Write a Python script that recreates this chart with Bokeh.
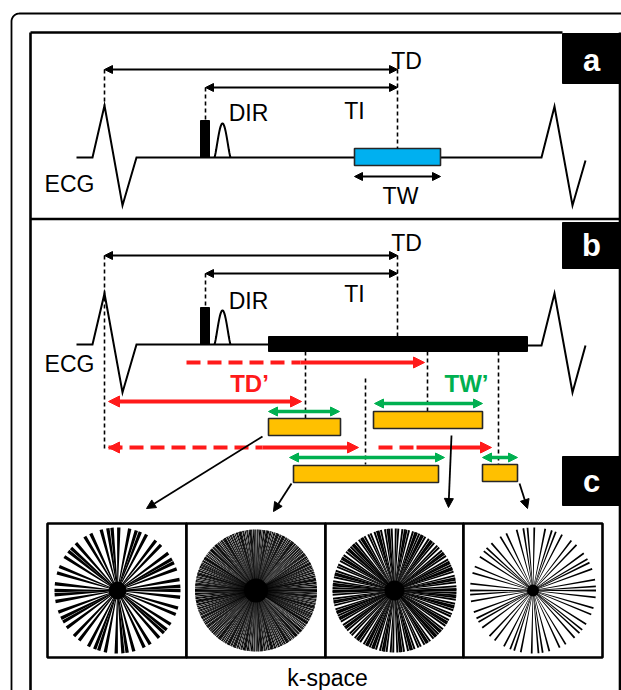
import numpy as np
from bokeh.plotting import figure
from bokeh.models import Range1d, Arrow, NormalHead
from bokeh.embed import file_html
from bokeh.resources import INLINE
from bokeh.core.properties import value

FONT = "Liberation Sans"

# ---------------- diagram content (page-pixel layout units) ----------------
panel_labels = ["a", "b", "c"]
label_box_top = [33, 222, 456]
label_box_bottom = [83, 268, 505]
label_text_y = [60, 245, 481]

# ECG traces
ecg_a_x = [76, 92, 104, 122, 136, 541, 554, 572, 585]
ecg_a_y = [157, 157, 105, 205, 157, 157, 106, 205, 160]
ecg_b_x = [76, 92, 104, 122, 136, 268]
ecg_b_y = [344, 344, 293, 392, 344, 344]
ecg_b2_x = [527, 541, 554, 572, 585]
ecg_b2_y = [345, 345, 293, 392, 345]

# DIR pulses (panel a, panel b)
dir_left = [200, 200]
dir_right = [209, 209]
dir_top = [120, 307]
dir_base = [157, 344]
bell_x0 = [214, 214]
bell_x1 = [230, 230]
bell_peak = [123, 310]

# acquisition windows
blue_win = dict(left=[354], right=[440], top=[148], bottom=[165])
black_bar = dict(left=[268], right=[527], top=[336], bottom=[351])
orange_left = [268, 373, 293, 482]
orange_right = [340, 482, 438, 517]
orange_top = [418, 411, 465, 464]
orange_bottom = [435, 428, 482, 481]

# dashed guide lines (x, y_from, y_to)
guide_x = [104, 205, 397, 104, 205, 397, 305, 427, 498, 365]
guide_y0 = [69, 87, 69, 255, 273, 255, 351, 351, 351, 378]
guide_y1 = [105, 120, 148, 450, 307, 336, 418, 411, 464, 464]

# black double arrows (TD, TI, TW)
blk_x0 = [104, 205, 354, 104, 205]
blk_x1 = [397, 397, 440, 397, 397]
blk_y = [69, 87, 176, 255, 273]

# red arrows: dashed start, solid start, end, y, head at start?
red_dash_x0 = [186, 108, 378]
red_solid_x0 = [300, 262, 416]
red_x1 = [424, 358, 491]
red_y = [362, 447, 447]
red_start_head = [False, True, False]
red_plain_x0 = [108]
red_plain_x1 = [301]
red_plain_y = [401]

# green double arrows
grn_x0 = [268, 374, 289, 482]
grn_x1 = [339, 482, 444, 517]
grn_y = [411, 403, 457, 457]

# arrows to k-space
ka_x0 = [262, 291, 451, 519]
ka_y0 = [436, 483, 435, 483]
ka_x1 = [146, 273, 448, 527]
ka_y1 = [508, 511, 507, 508]

# k-space cells and radial spokes
cell_left = [47, 186, 325, 463]
cell_right = [186, 325, 463, 602]
cell_top = 523
cell_bottom = 657
spoke_cx = [117, 255.5, 394, 532.5]
spoke_cy = [590, 590, 590, 590]
spoke_r = [63, 61, 62, 63]
spoke_n = [26, 160, 72, 26]
spoke_w_edge = [3.4, 1.05, 2.0, 1.8]
spoke_w_center = [0.6, 0.3, 0.4, 0.4]
blob_r = [9, 12, 10, 6]

# text labels
txt = ["TD", "TI", "DIR", "ECG", "TW", "TD", "TI", "DIR", "ECG", "k-space"]
txt_x = [406, 354, 248, 69, 400, 406, 354, 248, 69, 327]
txt_y = [60, 110, 112, 183, 195, 242, 293, 300, 363, 677]
bold_txt = ["TD\u2019", "TW\u2019"]
bold_x = [249, 466]
bold_y = [383, 383]
bold_col = ["#ff1a1a", "#00b050"]

# ---------------- figure ----------------
W, H = 621, 690
p = figure(width=W, height=H, x_range=Range1d(0, 621), y_range=Range1d(690, 0),
           x_axis_type=None, y_axis_type=None, toolbar_location=None,
           output_backend="svg", min_border=0, outline_line_color=None,
           background_fill_color="white", border_fill_color="white")

# outer rounded frame
t = np.linspace(np.pi, 1.5 * np.pi, 20)
cx0, cy0, rr = 19, 21, 8
ox = [11] + list(cx0 + rr * np.cos(t)) + [625]
oy = [700] + list(cy0 + rr * np.sin(t)) + [13]
p.line(ox, oy, line_color="black", line_width=1.8)

# inner frame
p.line([30, 30], [32, 700], line_color="black", line_width=2.6)
p.line([30, 562], [32, 32], line_color="black", line_width=2.6)
p.line([619.5, 619.5], [32, 700], line_color="black", line_width=2.6)
p.line([30, 619.5], [218.5, 218.5], line_color="black", line_width=2.6)

# label boxes
p.quad(left=[562] * 3, right=[621] * 3, top=label_box_top, bottom=label_box_bottom,
       fill_color="black", line_color="black")
p.text(x=[591] * 3, y=label_text_y, text=panel_labels, text_color="white",
       text_font=value(FONT), text_font_size="31px", text_font_style="bold",
       text_align="center", text_baseline="middle")

# ECG lines
for xs, ys in [(ecg_a_x, ecg_a_y), (ecg_b_x, ecg_b_y), (ecg_b2_x, ecg_b2_y)]:
    p.line(xs, ys, line_color="black", line_width=2, line_join="miter")

# DIR pulses
p.quad(left=dir_left, right=dir_right, top=dir_top, bottom=dir_base,
       fill_color="black", line_color="black")
for i in range(2):
    tt = np.linspace(0, 1, 30)
    bx = bell_x0[i] + (bell_x1[i] - bell_x0[i]) * tt
    by = dir_base[i] - (dir_base[i] - bell_peak[i]) * np.sin(np.pi * tt) ** 1.3
    p.line(bx, by, line_color="black", line_width=2)

# windows
p.quad(**blue_win, fill_color="#00b0f0", line_color="#262626", line_width=1.6)
p.quad(**black_bar, fill_color="black", line_color="black")

# dashed guides
p.segment(x0=guide_x, y0=guide_y0, x1=guide_x, y1=guide_y1,
          line_color="black", line_width=1.6, line_dash="4 3")


def head(col, size):
    return NormalHead(size=size, fill_color=col, line_color=col, line_width=1)


# black double arrows
for x0, x1, y in zip(blk_x0, blk_x1, blk_y):
    p.add_layout(Arrow(x_start=x0, y_start=y, x_end=x1, y_end=y,
                       start=head("black", 8), end=head("black", 8),
                       line_color="black", line_width=1.8))

RED = "#ff1a1a"
GRN = "#00b050"
# red arrows
for xd, xs, xe, y, sh in zip(red_dash_x0, red_solid_x0, red_x1, red_y, red_start_head):
    p.line([xd, xs], [y, y], line_color=RED, line_width=4, line_dash="14 7")
    p.add_layout(Arrow(x_start=xs, y_start=y, x_end=xe, y_end=y,
                       start=None, end=head(RED, 11), line_color=RED, line_width=4))
    if sh:
        p.add_layout(Arrow(x_start=xd + 12, y_start=y, x_end=xd, y_end=y,
                           start=None, end=head(RED, 11), line_color=RED, line_width=4))
for x0, x1, y in zip(red_plain_x0, red_plain_x1, red_plain_y):
    p.add_layout(Arrow(x_start=x0, y_start=y, x_end=x1, y_end=y,
                       start=head(RED, 11), end=head(RED, 11), line_color=RED, line_width=4))

# orange boxes
p.quad(left=orange_left, right=orange_right, top=orange_top, bottom=orange_bottom,
       fill_color="#ffc000", line_color="#262626", line_width=1.6)

# green double arrows
for x0, x1, y in zip(grn_x0, grn_x1, grn_y):
    p.add_layout(Arrow(x_start=x0, y_start=y, x_end=x1, y_end=y,
                       start=head(GRN, 9), end=head(GRN, 9), line_color=GRN, line_width=3.5))

# arrows to k-space
for x0, y0, x1, y1 in zip(ka_x0, ka_y0, ka_x1, ka_y1):
    p.add_layout(Arrow(x_start=x0, y_start=y0, x_end=x1, y_end=y1,
                       start=None, end=head("black", 9), line_color="black", line_width=1.8))

# k-space box
p.quad(left=cell_left, right=cell_right, top=[cell_top] * 4, bottom=[cell_bottom] * 4,
       fill_color="white", line_color="black", line_width=2.6)

# radial spokes (golden-angle ordering)
ga = np.deg2rad(111.246)
for c in range(4):
    xs_all, ys_all = [], []
    cx, cy, R = spoke_cx[c], spoke_cy[c], spoke_r[c]
    w1, w0 = spoke_w_edge[c] / 2, spoke_w_center[c] / 2
    for k in range(spoke_n[c]):
        th = (k * ga) % np.pi
        dx, dy = np.cos(th), np.sin(th)
        nx, ny = -dy, dx
        e1 = (cx + R * dx, cy + R * dy)
        e2 = (cx - R * dx, cy - R * dy)
        pts = [(e1[0] + nx * w1, e1[1] + ny * w1), (cx + nx * w0, cy + ny * w0),
               (e2[0] + nx * w1, e2[1] + ny * w1), (e2[0] - nx * w1, e2[1] - ny * w1),
               (cx - nx * w0, cy - ny * w0), (e1[0] - nx * w1, e1[1] - ny * w1)]
        xs_all.append([q[0] for q in pts])
        ys_all.append([q[1] for q in pts])
    p.patches(xs_all, ys_all, fill_color="black", line_color=None)
p.circle(x=spoke_cx, y=spoke_cy, radius=blob_r, fill_color="black", line_color=None)

# labels
p.text(x=txt_x, y=txt_y, text=txt, text_color="black", text_font=value(FONT),
       text_font_size="23px", text_align="center", text_baseline="middle")
p.text(x=bold_x, y=bold_y, text=bold_txt, text_color=bold_col, text_font=value(FONT),
       text_font_size="24px", text_font_style="bold", text_align="center",
       text_baseline="middle")

open("out.html", "w").write(file_html(p, INLINE))
